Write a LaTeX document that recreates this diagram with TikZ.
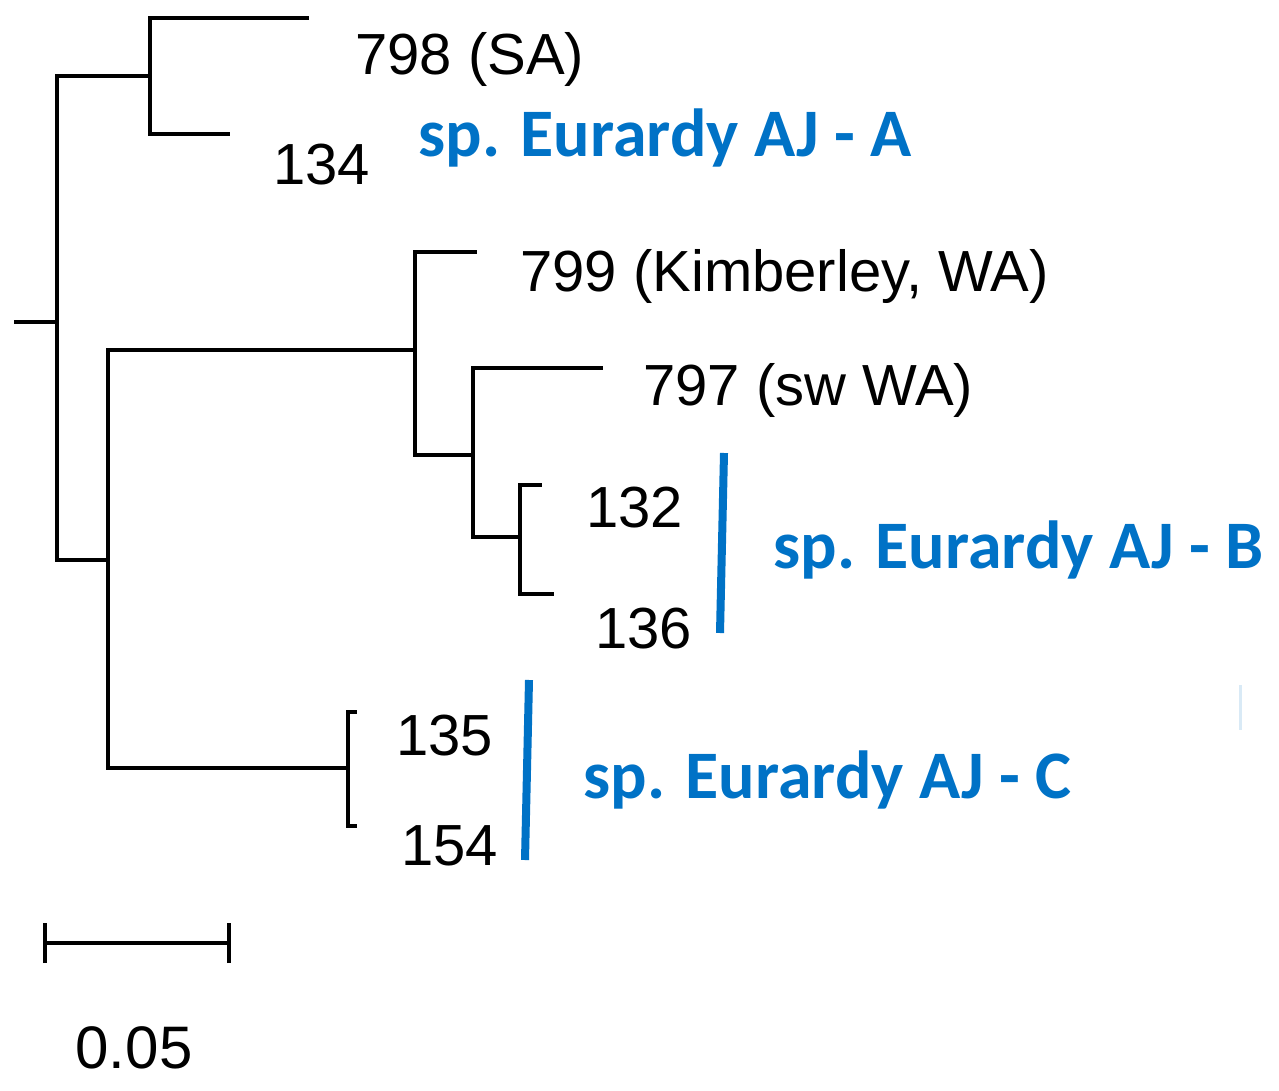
\documentclass[tikz,border=0pt]{standalone}
\usepackage{fontspec}
\setmainfont{Liberation Sans}
\newfontfamily\cladefont{Carlito}
\usepackage{xcolor}
\definecolor{cladeblue}{RGB}{0,114,198}

\begin{document}
\begin{tikzpicture}[x=0.5pt, y=-0.5pt,
    branch/.style={line width=2pt, line cap=rect, line join=miter},
    taxon/.style={anchor=base west, inner sep=0pt, font=\fontsize{29}{31}\selectfont},
    clade/.style={anchor=base west, inner sep=0pt, text=cladeblue, font=\cladefont\bfseries\fontsize{34}{36}\selectfont},
    cladebar/.style={line width=4pt, draw=cladeblue}]
    \useasboundingbox (0,0) rectangle (1279,1091);

    % First, locate each of the branch points and tips and name them
        \coordinate (root) at (16,322);
        \coordinate (base) at (57,322);
        \coordinate (nodeA) at (150,76);
        \coordinate (lower) at (108,560);
        \coordinate (nodeWA) at (415,350);
        \coordinate (nodeSW) at (473,455);
        \coordinate (nodeB) at (520,537);
        \coordinate (nodeC) at (348,768);
        \coordinate (tip798) at (307,18);
        \coordinate (tip134) at (228,134);
        \coordinate (tip799) at (475,252);
        \coordinate (tip797) at (601,368);
        \coordinate (tip132) at (540,485);
        \coordinate (tip136) at (552,594);
        \coordinate (tip135) at (355,712);
        \coordinate (tip154) at (355,826);

    % Now the taxon labels
        \node[taxon] (t798) at (355,75) {798 (SA)};
        \node[taxon] (t134) at (273,185) {134};
        \node[taxon] (t799) at (520,292) {799 (Kimberley, WA)};
        \node[taxon] (t797) at (643,405) {797 (sw WA)};
        \node[taxon] (t132) at (586,527) {132};
        \node[taxon] (t136) at (595,648) {136};
        \node[taxon] (t135) at (396,755) {135};
        \node[taxon] (t154) at (401,865) {154};

    % Clade names and bars
        \node[clade] (cladeA) at (418,157) {sp. Eurardy AJ - A};
        \node[clade] (cladeB) at (773,568) {sp. Eurardy AJ - B};
        \node[clade] (cladeC) at (583,798) {sp. Eurardy AJ - C};
        \coordinate (barBtop) at (724,453);
        \coordinate (barBbot) at (720,633);
        \coordinate (barCtop) at (529,680);
        \coordinate (barCbot) at (525,860);
        \coordinate (markTop) at (1240,685);
        \coordinate (markBot) at (1240,730);

    % Now draw the branches:
        \draw [branch] (root) -- (base);
        \draw [branch] (base) |- (nodeA);
        \draw [branch] (base) |- (lower);
        \draw [branch] (nodeA) |- (tip798);
        \draw [branch] (nodeA) |- (tip134);
        \draw [branch] (lower) |- (nodeWA);
        \draw [branch] (lower) |- (nodeC);
        \draw [branch] (nodeWA) |- (tip799);
        \draw [branch] (nodeWA) |- (nodeSW);
        \draw [branch] (nodeSW) |- (tip797);
        \draw [branch] (nodeSW) |- (nodeB);
        \draw [branch] (nodeB) |- (tip132);
        \draw [branch] (nodeB) |- (tip136);
        \draw [branch] (nodeC) |- (tip135);
        \draw [branch] (nodeC) |- (tip154);

    % The clade bars
        \draw [cladebar] (barBtop) -- (barBbot);
        \draw [cladebar] (barCtop) -- (barCbot);
        \draw [line width=1.5pt, draw=cladeblue!15] (markTop) -- (markBot);

    % Scale bar
        \coordinate (scaleL) at (45,943);
        \coordinate (scaleR) at (229,943);
        \draw [branch] (scaleL) -- (scaleR);
        \draw [branch, line cap=butt] ([yshift=-10pt]scaleL) -- ([yshift=10pt]scaleL);
        \draw [branch, line cap=butt] ([yshift=-10pt]scaleR) -- ([yshift=10pt]scaleR);
        \node[taxon, anchor=base, font=\fontsize{30}{32}\selectfont] (scale) at (134,1068) {0.05};
    \end{tikzpicture}
\end{document}
